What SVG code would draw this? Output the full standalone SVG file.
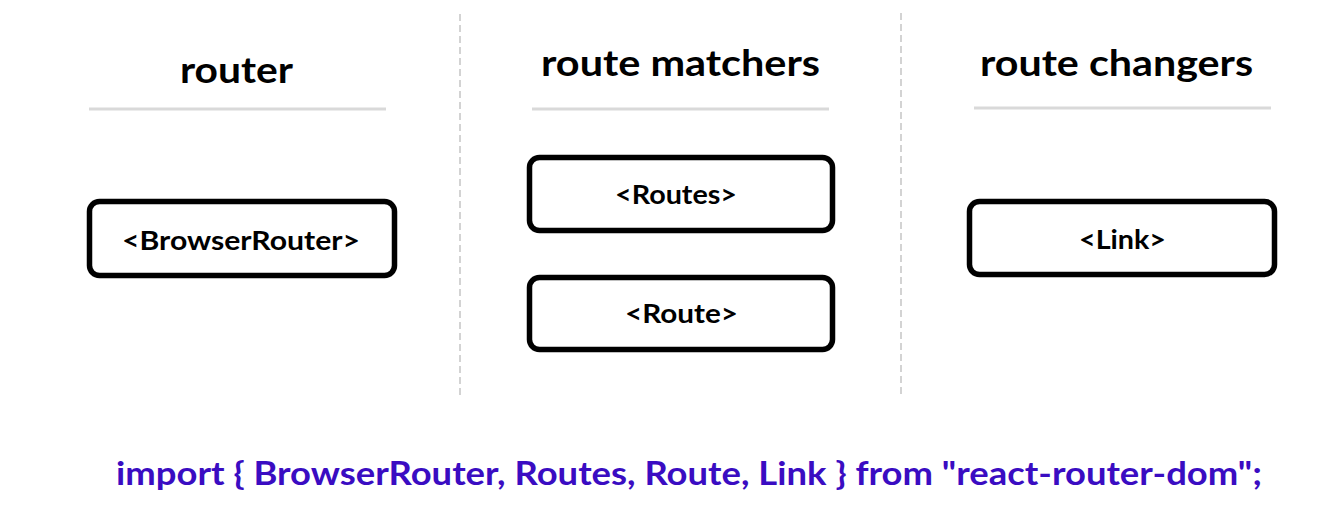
<svg xmlns="http://www.w3.org/2000/svg" width="1320" height="532" viewBox="0 0 1320 532">
<style>
.hdr{font-family:Lato,"Open Sans","Liberation Sans",sans-serif;font-weight:bold;font-size:36px;fill:#000;text-anchor:start}
.lbl{font-family:Lato,"Open Sans","Liberation Sans",sans-serif;font-weight:bold;font-size:27px;fill:#000}
.box{fill:#fff;stroke:#000;stroke-width:5.5}
.rule{stroke:#d9d9d9;stroke-width:3}
.sep{stroke:#d3d3d3;stroke-width:2;stroke-dasharray:7 4}
.code{font-family:Lato,"Open Sans","Liberation Sans",sans-serif;font-weight:bold;font-size:33px;fill:#3a0cc2}
</style>
<rect width="1320" height="532" fill="#fff"/>
<g id="separators">
<line class="sep" x1="460" y1="14" x2="460" y2="397"/>
<line class="sep" x1="901" y1="13" x2="901" y2="397"/>
</g>
<g id="col-router">
<text class="hdr" x="180" y="83" textLength="113" lengthAdjust="spacingAndGlyphs">router</text>
<line class="rule" x1="89" y1="109" x2="386" y2="109"/>
</g>
<g id="col-matchers">
<text class="hdr" x="541" y="76" textLength="279" lengthAdjust="spacingAndGlyphs">route matchers</text>
<line class="rule" x1="532" y1="109" x2="829" y2="109"/>
</g>
<g id="col-changers">
<text class="hdr" x="980" y="76" textLength="273" lengthAdjust="spacingAndGlyphs">route changers</text>
<line class="rule" x1="974" y1="108" x2="1271" y2="108"/>
</g>
<g id="node-browserrouter">
<rect class="box" x="89.5" y="201.5" width="305" height="74" rx="10"/>
<text class="lbl" x="122" y="250" textLength="238" lengthAdjust="spacingAndGlyphs">&lt;BrowserRouter&gt;</text>
</g>
<g id="node-routes">
<rect class="box" x="529.5" y="157.5" width="303" height="73" rx="10"/>
<text class="lbl" x="615" y="204" textLength="122" lengthAdjust="spacingAndGlyphs">&lt;Routes&gt;</text>
</g>
<g id="node-route">
<rect class="box" x="529.5" y="277.5" width="303" height="72" rx="10"/>
<text class="lbl" x="625" y="323" textLength="113" lengthAdjust="spacingAndGlyphs">&lt;Route&gt;</text>
</g>
<g id="node-link">
<rect class="box" x="969.5" y="201.5" width="305" height="73" rx="10"/>
<text class="lbl" x="1079" y="249" textLength="87" lengthAdjust="spacingAndGlyphs">&lt;Link&gt;</text>
</g>
<g id="connectors"></g>
<g id="import-line">
<text class="code" x="116" y="485" textLength="1146" lengthAdjust="spacingAndGlyphs">import { BrowserRouter, Routes, Route, Link } from "react-router-dom";</text>
</g>
</svg>
